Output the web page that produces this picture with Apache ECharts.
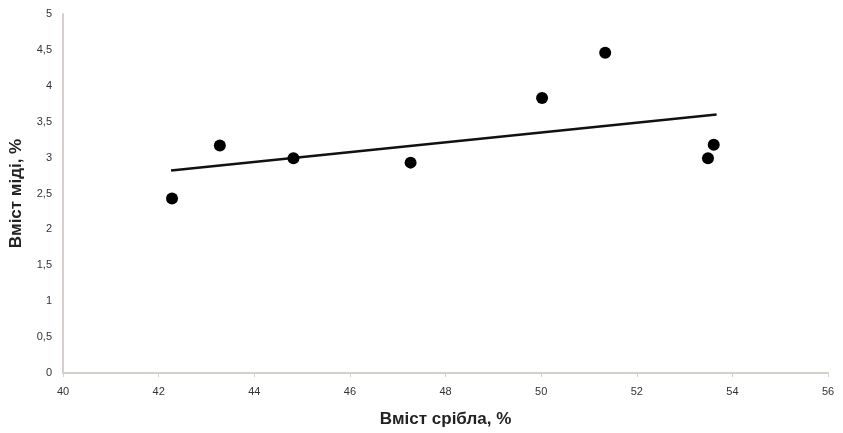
<!DOCTYPE html>
<html><head><meta charset="utf-8">
<script src="https://cdn.jsdelivr.net/npm/echarts@6/dist/echarts.min.js"></script>
<style>html,body{margin:0;padding:0;background:#fff}#c{width:843px;height:433px}</style>
</head><body><div id="c"></div>
<script>
const silver = [42.28, 43.28, 44.82, 47.27, 50.02, 51.34, 53.61, 53.49];
const copper = [2.43, 3.17, 2.99, 2.93, 3.83, 4.46, 3.18, 2.99];
const trendX = [42.26, 53.67];
const trendY = [2.82, 3.60];
const xTitle = 'Вміст срібла, %';
const yTitle = 'Вміст міді, %';

const chart = echarts.init(document.getElementById('c'));
const fmt = v => String(v).replace('.', ',');
chart.setOption({
  animation: false,
  backgroundColor: '#fff',
  grid: {left: 62, right: 15, top: 14, bottom: 58},
  xAxis: {
    type: 'value', min: 40, max: 56, interval: 2,
    name: xTitle, nameLocation: 'middle', nameGap: 38,
    nameTextStyle: {fontFamily: 'Liberation Sans', fontSize: 17, color: '#222', fontWeight: 'bold'},
    axisLine: {lineStyle: {color: '#d6cfcb', width: 2}},
    axisTick: {show: true, length: 4, lineStyle: {color: '#d6cfcb'}},
    axisLabel: {fontFamily: 'Liberation Sans', fontSize: 11, color: '#333', margin: 13},
    splitLine: {show: false}
  },
  yAxis: {
    type: 'value', min: 0, max: 5, interval: 0.5,
    name: yTitle, nameLocation: 'middle', nameGap: 38,
    nameTextStyle: {fontFamily: 'Liberation Sans', fontSize: 17, color: '#222', fontWeight: 'bold'},
    axisLine: {show: true, lineStyle: {color: '#d6cfcb', width: 2}},
    axisTick: {show: false},
    axisLabel: {fontFamily: 'Liberation Sans', fontSize: 11, color: '#333', margin: 11, formatter: fmt},
    splitLine: {show: false}
  },
  series: [
    {
      type: 'line', data: trendX.map((x, i) => [x, trendY[i]]),
      symbol: 'none', lineStyle: {color: '#111', width: 2.5}, z: 2
    },
    {
      type: 'scatter', data: silver.map((x, i) => [x, copper[i]]),
      symbolSize: 12, itemStyle: {color: '#000', opacity: 1}, z: 3
    }
  ]
});
</script></body></html>
